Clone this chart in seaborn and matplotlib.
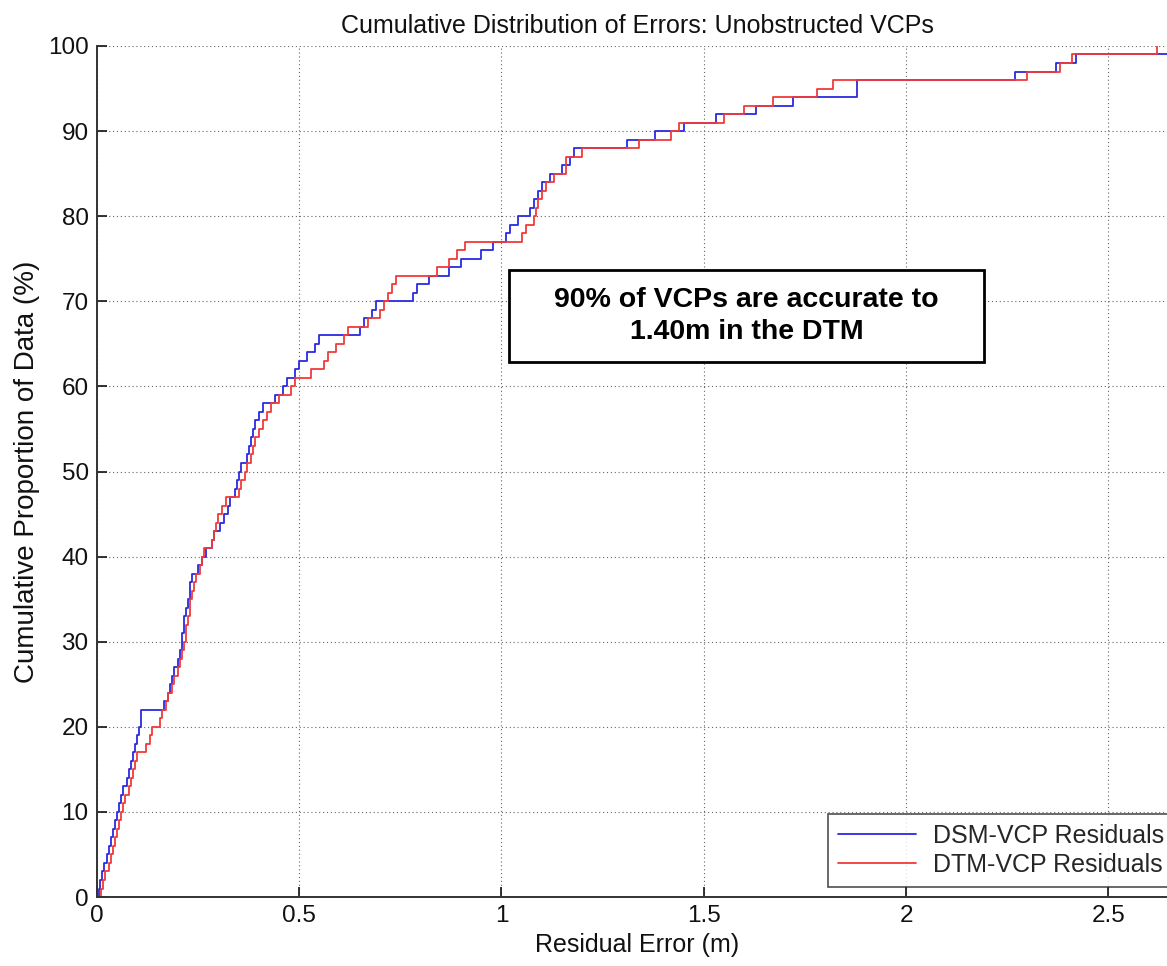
import pandas as pd
import matplotlib.pyplot as plt
import seaborn as sns
from matplotlib.patches import Rectangle

# Residual errors (m)
dsm_residuals = [
    0.005, 0.008, 0.012, 0.018, 0.025, 0.03, 0.035, 0.04, 0.045, 0.05,
    0.055, 0.06, 0.065, 0.075, 0.08, 0.085, 0.09, 0.095, 0.1, 0.105,
    0.11, 0.11, 0.165, 0.175, 0.18, 0.185, 0.19, 0.2, 0.205, 0.21,
    0.21, 0.215, 0.215, 0.22, 0.225, 0.23, 0.23, 0.235, 0.25, 0.26,
    0.27, 0.285, 0.29, 0.305, 0.315, 0.325, 0.33, 0.34, 0.345, 0.35,
    0.355, 0.37, 0.375, 0.38, 0.385, 0.39, 0.4, 0.41, 0.44, 0.46,
    0.47, 0.49, 0.5, 0.52, 0.54, 0.55, 0.65, 0.66, 0.68, 0.69,
    0.78, 0.79, 0.82, 0.87, 0.9, 0.95, 0.98, 1.01, 1.02, 1.04,
    1.07, 1.08, 1.09, 1.1, 1.12, 1.15, 1.17, 1.18, 1.31, 1.38,
    1.45, 1.53, 1.63, 1.72, 1.88, 1.88, 2.27, 2.37, 2.42, 2.9,
]
dtm_residuals = [
    0.01, 0.015, 0.02, 0.03, 0.035, 0.04, 0.045, 0.05, 0.055, 0.06,
    0.065, 0.07, 0.08, 0.085, 0.09, 0.095, 0.1, 0.12, 0.13, 0.135,
    0.155, 0.16, 0.17, 0.175, 0.185, 0.19, 0.2, 0.205, 0.21, 0.215,
    0.22, 0.22, 0.225, 0.23, 0.23, 0.235, 0.24, 0.245, 0.255, 0.26,
    0.265, 0.285, 0.29, 0.295, 0.3, 0.31, 0.32, 0.35, 0.355, 0.365,
    0.37, 0.38, 0.385, 0.39, 0.4, 0.41, 0.42, 0.43, 0.45, 0.48,
    0.49, 0.53, 0.56, 0.57, 0.59, 0.61, 0.62, 0.67, 0.7, 0.71,
    0.72, 0.73, 0.74, 0.84, 0.87, 0.89, 0.91, 1.05, 1.06, 1.08,
    1.085, 1.09, 1.1, 1.11, 1.13, 1.16, 1.16, 1.2, 1.34, 1.42,
    1.44, 1.55, 1.6, 1.67, 1.78, 1.82, 2.3, 2.38, 2.41, 2.62,
]

x_ticks = [0, 0.5, 1, 1.5, 2, 2.5]
x_tick_labels = ["0", "0.5", "1", "1.5", "2", "2.5"]
y_ticks = [0, 10, 20, 30, 40, 50, 60, 70, 80, 90, 100]

sns.set_style("ticks")
plt.rcParams["font.family"] = ["Liberation Sans", "DejaVu Sans"]

fig = plt.figure(figsize=(11.67, 9.66), dpi=100)
ax = fig.add_axes([0.0831, 0.0714, 0.9255, 0.881])

sns.ecdfplot(x=dsm_residuals, stat="percent", color="#2a2ae0",
             linewidth=1.3, label="DSM-VCP Residuals", ax=ax)
sns.ecdfplot(x=dtm_residuals, stat="percent", color="#f03a3a",
             linewidth=1.3, label="DTM-VCP Residuals", ax=ax)

ax.set_xlim(0, 2.67)
ax.set_ylim(0, 100)
ax.set_xticks(x_ticks)
ax.set_xticklabels(x_tick_labels)
ax.set_yticks(y_ticks)
ax.tick_params(direction="in", length=7, width=1.2, labelsize=17.5,
               colors="#111111", pad=6)

ax.grid(True, linestyle=(0, (1, 2.5)), color="#666666", linewidth=0.8)
sns.despine(ax=ax, top=True, right=True)
for side in ["left", "bottom"]:
    ax.spines[side].set_linewidth(1.4)
    ax.spines[side].set_color("#333333")

ax.set_title("Cumulative Distribution of Errors: Unobstructed VCPs",
             fontsize=18, pad=9, color="#111111")
ax.set_xlabel("Residual Error (m)", fontsize=18, labelpad=4, color="#111111")
ax.set_ylabel("Cumulative Proportion of Data (%)", fontsize=20,
              labelpad=6, color="#111111")

# Annotation box
ax.add_patch(Rectangle((0.3815, 0.6286), 0.44, 0.1081,
                       transform=ax.transAxes, facecolor="white",
                       edgecolor="black", linewidth=2, zorder=5))
ax.text(0.6015, 0.6826, "90% of VCPs are accurate to\n1.40m in the DTM",
        transform=ax.transAxes, ha="center", va="center", color="black",
        fontsize=20.5, fontweight="bold", linespacing=1.3, zorder=6)

leg = ax.legend(loc="lower left", bbox_to_anchor=(0.677, 0.012),
                fontsize=18, frameon=True, fancybox=False,
                handlelength=3.1, handletextpad=0.7, borderpad=0.4,
                labelspacing=0.2, borderaxespad=0)
leg.get_frame().set_edgecolor("#222222")
leg.get_frame().set_linewidth(1.2)

plt.savefig("out.png", dpi=100)
